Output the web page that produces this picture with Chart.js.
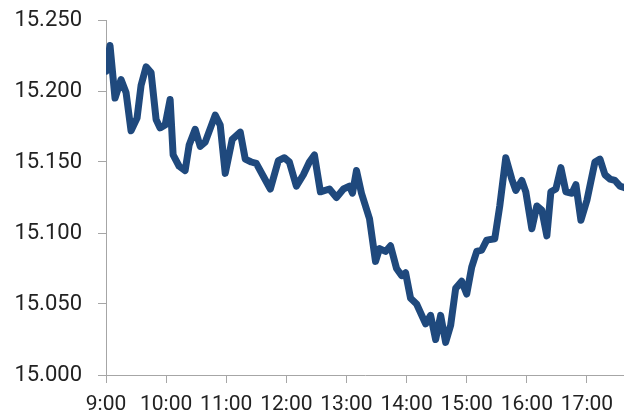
<!DOCTYPE html>
<html>
<head>
<meta charset="utf-8">
<script src="https://cdn.jsdelivr.net/npm/chart.js@4"></script>
<style>
  html, body { margin: 0; padding: 0; background: #fff; }
  #wrap { width: 624px; height: 414px; }
</style>
</head>
<body>
<div id="wrap"><canvas id="chart" width="624" height="414"></canvas></div>
<script>
// intraday prices
const times = [
  "9:00", "9:04", "9:09", "9:15", "9:20", "9:25", "9:31", "9:35", "9:40", "9:45",
  "9:50", "9:54", "9:59", "10:04", "10:07", "10:13", "10:19", "10:23", "10:29", "10:34",
  "10:39", "10:49", "10:54", "10:59", "11:06", "11:14", "11:19", "11:25", "11:30", "11:37",
  "11:44", "11:52", "11:58", "12:03", "12:10", "12:17", "12:23", "12:28", "12:34", "12:43",
  "12:50", "12:57", "13:03", "13:06", "13:10", "13:15", "13:23", "13:29", "13:33", "13:39",
  "13:44", "13:50", "13:55", "13:59", "14:04", "14:10", "14:19", "14:24", "14:29", "14:34",
  "14:39", "14:44", "14:49", "14:55", "15:00", "15:05", "15:10", "15:15", "15:20", "15:28",
  "15:33", "15:39", "15:45", "15:49", "15:55", "15:59", "16:05", "16:10", "16:15", "16:20",
  "16:24", "16:29", "16:34", "16:39", "16:45", "16:49", "16:54", "17:00", "17:08", "17:13",
  "17:18", "17:23", "17:28", "17:33", "17:37"
];
const prices = [
  15.214, 15.232, 15.195, 15.208, 15.199, 15.172, 15.181, 15.204, 15.217, 15.213,
  15.180, 15.174, 15.176, 15.194, 15.155, 15.147, 15.144, 15.162, 15.173, 15.161,
  15.164, 15.183, 15.176, 15.142, 15.166, 15.171, 15.152, 15.150, 15.149, 15.140,
  15.131, 15.151, 15.153, 15.150, 15.133, 15.141, 15.150, 15.155, 15.129, 15.131,
  15.125, 15.131, 15.133, 15.128, 15.144, 15.128, 15.110, 15.080, 15.089, 15.087,
  15.091, 15.075, 15.070, 15.072, 15.054, 15.050, 15.036, 15.042, 15.025, 15.042,
  15.023, 15.035, 15.061, 15.066, 15.057, 15.076, 15.087, 15.088, 15.095, 15.096,
  15.119, 15.153, 15.138, 15.130, 15.137, 15.129, 15.103, 15.119, 15.116, 15.098,
  15.129, 15.131, 15.146, 15.129, 15.128, 15.134, 15.109, 15.123, 15.150, 15.152,
  15.141, 15.138, 15.137, 15.133, 15.132
];
const yTicks = [15.000, 15.050, 15.100, 15.150, 15.200, 15.250];
const xStart = "9:00";
const xEnd = "17:37";

function toMinutes(t) {
  const [h, m] = t.split(":").map(Number);
  return h * 60 + m;
}

const points = times.map((t, i) => ({ x: toMinutes(t), y: prices[i] }));
const axisGrey = "#a6a6a6";

new Chart(document.getElementById("chart"), {
  type: "line",
  data: {
    datasets: [{
      data: points,
      borderColor: "#1f497d",
      borderWidth: 7,
      borderJoinStyle: "round",
      borderCapStyle: "round",
      pointRadius: 0,
      tension: 0,
      fill: false,
    }],
  },
  options: {
    responsive: false,
    animation: false,
    events: [],
    layout: { padding: { top: 20, right: 0, bottom: 0, left: 0 } },
    plugins: {
      legend: { display: false },
      title: { display: false },
      tooltip: { enabled: false },
    },
    scales: {
      x: {
        type: "linear",
        min: toMinutes(xStart),
        max: toMinutes(xEnd),
        border: { display: true, color: axisGrey, width: 1 },
        grid: { drawOnChartArea: false, drawTicks: true, tickLength: 8, color: axisGrey },
        ticks: {
          stepSize: 60,
          includeBounds: false,
          autoSkip: false,
          maxRotation: 0,
          padding: 9,
          color: "#222",
          font: { family: "Roboto", size: 21 },
          callback: (v) => Math.floor(v / 60) + ":00",
        },
        afterFit: (scale) => {
          scale.height = 39;
          scale.paddingLeft = 0;
          scale.paddingRight = 0;
        },
      },
      y: {
        min: yTicks[0],
        max: yTicks[yTicks.length - 1],
        afterBuildTicks: (scale) => {
          scale.ticks = yTicks.map((v) => ({ value: v }));
        },
        border: { display: true, color: axisGrey, width: 1 },
        grid: { drawOnChartArea: false, drawTicks: true, tickLength: 8, color: axisGrey },
        ticks: {
          padding: 16,
          color: "#222",
          font: { family: "Roboto", size: 22 },
          callback: (v) => Number(v).toFixed(3),
        },
        afterFit: (scale) => {
          scale.width = 106;
          scale.paddingTop = 0;
          scale.paddingBottom = 0;
        },
      },
    },
  },
});
</script>
</body>
</html>
